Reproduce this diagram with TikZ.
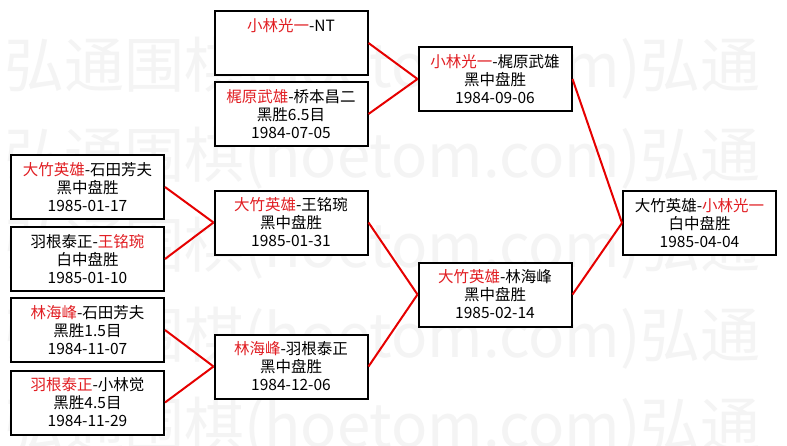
\documentclass[tikz,border=0pt]{standalone}
\usepackage{fontspec}
\newfontfamily\cjk{Noto Sans CJK SC}
\usetikzlibrary{positioning}
\definecolor{fg}{RGB}{0,0,0}
\definecolor{win}{RGB}{225,30,35}
\definecolor{conn}{RGB}{230,0,0}
\definecolor{wm}{RGB}{244,244,244}
\definecolor{bg}{RGB}{255,255,255}
\newcommand{\sieger}[1]{\textcolor{win}{#1}}
\tikzset{
  every picture/.style={fg, line join=miter},
  % Partien
  match/.style={draw=fg, line width=2pt, fill=bg, minimum width=153pt, minimum height=64pt,
    inner sep=0pt, align=center, font=\cjk\fontsize{15.5}{18}\selectfont},
  % Verbindungen
  link/.style={conn, line width=2pt},
  % Wasserzeichen
  wmark/.style={wm, anchor=west, inner sep=0pt, font=\cjk\fontsize{60}{60}\selectfont},
}

\begin{document}
\begin{tikzpicture}[x=1pt, y=-1pt]
  \fill[bg] (0,0) rectangle (787,445);
  \useasboundingbox (0,0) rectangle (787,445);
  \clip (0,0) rectangle (787,445);
  % Wasserzeichen
  \foreach \yy [count=\i] in {68,158,248,338,428}
    \node[wmark] (wm\i) at (4,\yy) {弘通围棋(hoetom.com)弘通};
  % erste Runde
  \node[match] (q1) at (87.5,187) {\sieger{大竹英雄}-石田芳夫\\黑中盘胜\\1985-01-17};
  \node[match] (q2) at (87.5,259) {羽根泰正-\sieger{王铭琬}\\白中盘胜\\1985-01-10};
  \node[match] (q3) at (87.5,330) {\sieger{林海峰}-石田芳夫\\黑胜1.5目\\1984-11-07};
  \node[match] (q4) at (87.5,402.5) {\sieger{羽根泰正}-小林觉\\黑胜4.5目\\1984-11-29};
  % zweite Runde
  \node[match] (v1) at (291,43) {\sieger{小林光一}-NT\\\mbox{}\\\mbox{}};
  \node[match] (v2) at (291,114) {\sieger{梶原武雄}-桥本昌二\\黑胜6.5目\\1984-07-05};
  \node[match] (v3) at (291,222.5) {\sieger{大竹英雄}-王铭琬\\黑中盘胜\\1985-01-31};
  \node[match] (v4) at (291,366.5) {\sieger{林海峰}-羽根泰正\\黑中盘胜\\1984-12-06};
  % Halbfinale
  \node[match] (h1) at (495,79) {\sieger{小林光一}-梶原武雄\\黑中盘胜\\1984-09-06};
  \node[match] (h2) at (495,294.5) {\sieger{大竹英雄}-林海峰\\黑中盘胜\\1985-02-14};
  % Finale
  \node[match] (fin) at (699.5,223) {大竹英雄-\sieger{小林光一}\\白中盘胜\\1985-04-04};
  % Verbindungen
  \draw[link] (q1.east) -- (v3.west);
  \draw[link] (q2.east) -- (v3.west);
  \draw[link] (q3.east) -- (v4.west);
  \draw[link] (q4.east) -- (v4.west);
  \draw[link] (v1.east) -- (h1.west);
  \draw[link] (v2.east) -- (h1.west);
  \draw[link] (v3.east) -- (h2.west);
  \draw[link] (v4.east) -- (h2.west);
  \draw[link] (h1.east) -- (fin.west);
  \draw[link] (h2.east) -- (fin.west);
\end{tikzpicture}
\end{document}
